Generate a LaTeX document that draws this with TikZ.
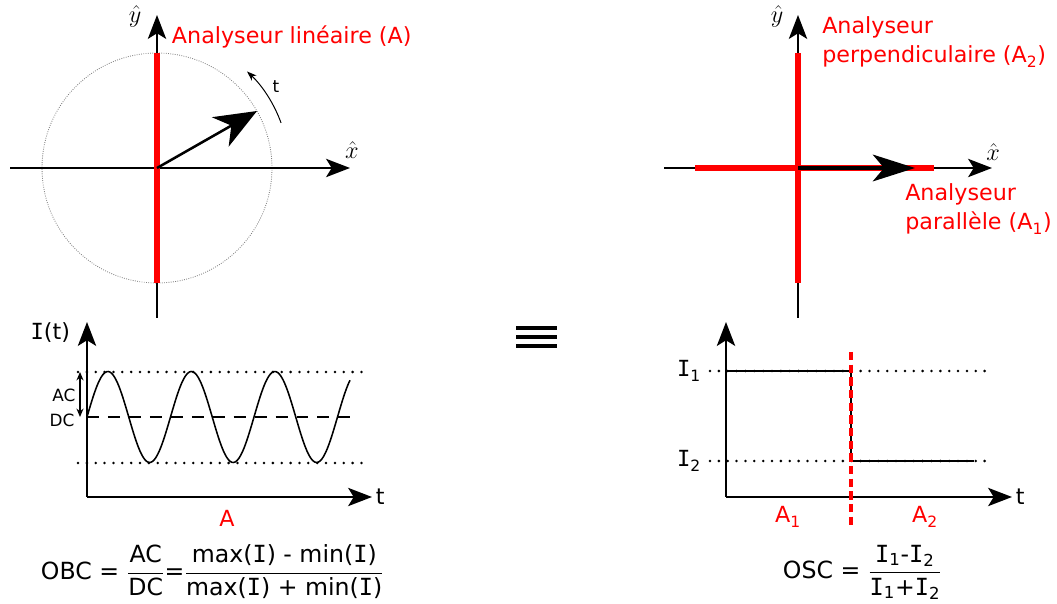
\documentclass[tikz,border=0pt]{standalone}
\usepackage{amsmath}
\usepackage{fontspec}
\setmainfont{DejaVu Sans}
\newfontfamily\serifI{DejaVu Sans Mono}
\newcommand{\Iv}{{\serifI I}}
\usetikzlibrary{arrows.meta}

\begin{document}
\begin{tikzpicture}[x=0.025cm, y=0.025cm,
    axis/.style={line width=1.5pt, -{Stealth[length=17pt, width=13pt, inset=4pt]}},
    analyser/.style={red, line width=3.6pt},
    level/.style={line width=2pt, line cap=round, dash pattern=on 0pt off 6.3pt},
    lbl/.style={font=\fontsize{15.8}{21}\selectfont},
    small/.style={font=\fontsize{12}{14}\selectfont},
    hat/.style={font=\fontsize{18}{18}\selectfont}]
    \useasboundingbox (0,0) rectangle (1057,604);

    \coordinate (o1) at (157,436);
    \coordinate (o2) at (798,436);
    \coordinate (o3) at (87,107);
    \coordinate (o4) at (726,107);

    \draw[gray, densely dotted, line width=0.6pt] (o1) circle (115);
    \draw[axis] (157,286) -- (157,589);
    \draw[axis] (10,436) -- (350,436);
    \draw[analyser] (157,321) -- (157,551);
    \draw[line width=1.8pt, -{Stealth[length=30pt, width=24pt, inset=9pt]}] (o1) -- (257,493);
    \draw[line width=0.7pt, -{Stealth[length=7pt, width=5pt]}] ([shift={(20:132)}]o1) arc (20:47:132);
    \node[small] (t1) at (276,517) {t};
    \node[hat] (yhat1) at (135,588) {$\hat{y}$};
    \node[hat] (xhat1) at (352,454) {$\hat{x}$};
    \node[lbl, red, anchor=west] (ana) at (167,567) {Analyseur linéaire (A)};

    \draw[axis] (798,286) -- (798,589);
    \draw[axis] (664,436) -- (992,436);
    \draw[analyser] (798,321) -- (798,551);
    \draw[analyser] (695,436) -- (934,436);
    \draw[line width=2.6pt, -{Stealth[length=30pt, width=19pt, inset=8pt]}] (o2) -- (915,436);
    \node[hat] (yhat2) at (777,588) {$\hat{y}$};
    \node[hat] (xhat2) at (993,452) {$\hat{x}$};
    \node[lbl, red, anchor=north west, align=left, inner sep=0pt] (perp) at (822,588)
        {Analyseur\\perpendiculaire (A\textsubscript{2})};
    \node[lbl, red, anchor=north west, align=left, inner sep=0pt] (para) at (905,421)
        {Analyseur\\parallèle (A\textsubscript{1})};

    \foreach \y in {258,267,276} {
        \draw[line width=2.4pt] (516,\y) -- (557,\y);
    }

    \draw[axis] (o3) -- (87,282);
    \draw[axis] (o3) -- (372,107);
    \node[lbl, anchor=east] (it) at (75,271) {\Iv(t)};
    \node[lbl, anchor=west] (t3) at (371,107) {t};
    \draw[level] (78,232) -- (367,232);
    \draw[level] (78,141) -- (367,141);
    \draw[line width=1.2pt, dash pattern=on 8.5pt off 6.4pt] (87,187) -- (357,187);
    \draw[line width=1.1pt, domain=0:263, samples=150, smooth]
        plot ({87+\x}, {187+45.5*sin(4.3114*\x)});
    \draw[line width=0.8pt, {Stealth[length=6pt, width=5pt]}-{Stealth[length=6pt, width=5pt]}] (80,232) -- (80,187);
    \node[small] (ac) at (64,209) {AC};
    \node[small] (dc) at (62,184) {DC};
    \node[lbl, red] (a) at (227,86) {A};
    \node[lbl, anchor=west, font=\fontsize{16.8}{21}\selectfont] (obc) at (36,32)
        {OBC = $\dfrac{\text{AC}}{\text{DC}}$=$\dfrac{\text{max(\Iv) - min(\Iv)}}{\text{max(\Iv) + min(\Iv)}}$};

    \draw[axis] (o4) -- (726,282);
    \draw[axis] (o4) -- (1012,107);
    \node[lbl, anchor=west] (t4) at (1011,107) {t};
    \draw[level] (710,233) -- (992,233);
    \draw[level] (710,143) -- (992,143);
    \draw[line width=1.6pt] (726,233) -- (851,233) -- (851,143) -- (974,143);
    \draw[red, line width=2.4pt, dash pattern=on 6pt off 3pt] (851,252) -- (851,79);
    \node[lbl, anchor=east] (i1) at (706,233) {\Iv\textsubscript{1}};
    \node[lbl, anchor=east] (i2) at (706,143) {\Iv\textsubscript{2}};
    \node[lbl, red] (a1) at (788,87) {A\textsubscript{1}};
    \node[lbl, red] (a2) at (925,87) {A\textsubscript{2}};
    \node[lbl, anchor=west, font=\fontsize{16.8}{21}\selectfont] (osc) at (778,32)
        {OSC = $\dfrac{\text{\Iv\textsubscript{1}-\Iv\textsubscript{2}}}{\text{\Iv\textsubscript{1}+\Iv\textsubscript{2}}}$};
\end{tikzpicture}
\end{document}
